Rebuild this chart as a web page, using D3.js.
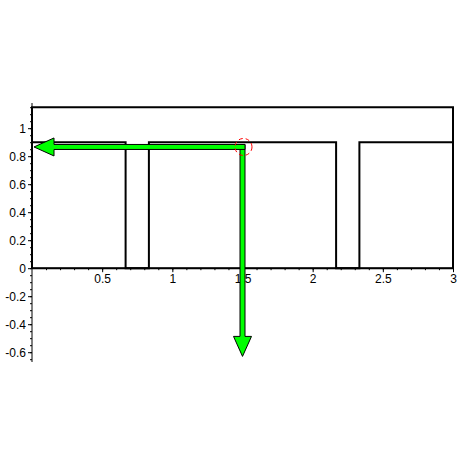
<!DOCTYPE html>
<html>
<head>
<meta charset="utf-8">
<script src="https://cdn.jsdelivr.net/npm/d3@7"></script>
<style>
  body { margin: 0; background: #fff; }
  text { font-family: Arial, "Liberation Sans", sans-serif; }
</style>
</head>
<body>
<div id="chart"></div>
<script>
// curve data
const stepX = [0, 0.667, 0.667, 0.833, 0.833, 2.167, 2.167, 2.333, 2.333, 3];
const stepY = [0.9, 0.9, 0, 0, 0.9, 0.9, 0, 0, 0.9, 0.9];
const boxX = [0, 0, 3, 3, 0];
const boxY = [0, 1.15, 1.15, 0, 0];

// marked point and arrows
const point = [1.5, 0.866];
const arrowEnds = [[0, 0.866], [1.5, -0.63]];

// ticks
const xMajor = [0.5, 1, 1.5, 2, 2.5, 3];
const xMinor = d3.range(1, 31).map(i => i / 10);
const yMajor = [-0.6, -0.4, -0.2, 0, 0.2, 0.4, 0.6, 0.8, 1];
const yMinor = d3.range(-13, 24).map(i => i / 20);

let svgWidth = 464;
let svgHeight = 464;

let svg = d3.select("#chart")
    .append("svg")
    .attr("width", svgWidth)
    .attr("height", svgHeight);

let x = d3.scaleLinear().domain([0, 3]).range([32, 453]);
let y = d3.scaleLinear().domain([-0.67, 1.18]).range([362, 103]);

// axes
let xAxisMinor = d3.axisBottom(x).tickValues(xMinor).tickSize(2).tickFormat("");
let xAxis = d3.axisBottom(x).tickValues(xMajor).tickSize(4).tickPadding(2)
    .tickFormat(d => String(d));
let yAxisMinor = d3.axisLeft(y).tickValues(yMinor).tickSize(2).tickFormat("");
let yAxis = d3.axisLeft(y).tickValues(yMajor).tickSize(4).tickPadding(2)
    .tickFormat(d => String(d));

function styleAxis(g) {
    g.select(".domain").attr("stroke", "#000");
    g.selectAll(".tick line").attr("stroke", "#000");
    g.selectAll("text").attr("fill", "#000").attr("font-size", 12)
        .attr("font-family", "Arial, 'Liberation Sans', sans-serif");
}

svg.append("g").attr("transform", `translate(0,${y(0)})`).call(xAxisMinor).call(styleAxis)
    .select(".domain").remove();
svg.append("g").attr("transform", `translate(0,${y(0)})`).call(xAxis).call(styleAxis)
    .select(".domain").attr("d", `M${x(0)},0H${x(3)}`);
svg.append("g").attr("transform", `translate(${x(0)},0)`).call(yAxisMinor).call(styleAxis)
    .select(".domain").remove();
svg.append("g").attr("transform", `translate(${x(0)},0)`).call(yAxis).call(styleAxis)
    .select(".domain").attr("d", `M0,${y(1.18)}V${y(-0.67)}`);

// curves
let line = d3.line().x(d => x(d[0])).y(d => y(d[1]));

svg.append("path")
    .attr("d", line(boxX.map((v, i) => [v, boxY[i]])))
    .attr("fill", "none")
    .attr("stroke", "#000")
    .attr("stroke-width", 2);

svg.append("path")
    .attr("d", line(stepX.map((v, i) => [v, stepY[i]])))
    .attr("fill", "none")
    .attr("stroke", "#000")
    .attr("stroke-width", 2);

// arrow polygon from (x0,y0) to (x1,y1) in pixels
function arrowPath(x0, y0, x1, y1) {
    let dx = x1 - x0, dy = y1 - y0;
    let len = Math.sqrt(dx * dx + dy * dy);
    let ux = dx / len, uy = dy / len;
    let px = -uy, py = ux;
    let sw = 2.5, hw = 9, hl = 20;
    let bx = x1 - ux * hl, by = y1 - uy * hl;
    let pts = [
        [x0 + px * sw, y0 + py * sw],
        [bx + px * sw, by + py * sw],
        [bx + px * hw, by + py * hw],
        [x1, y1],
        [bx - px * hw, by - py * hw],
        [bx - px * sw, by - py * sw],
        [x0 - px * sw, y0 - py * sw]
    ];
    return "M" + pts.map(p => p.join(",")).join("L") + "Z";
}

let px0 = x(point[0]), py0 = y(point[1]);

// vertical arrow
svg.append("path")
    .attr("d", arrowPath(px0, py0 - 2.5, x(arrowEnds[1][0]), y(arrowEnds[1][1])))
    .attr("fill", "#00ff00")
    .attr("stroke", "#000")
    .attr("stroke-width", 1);

// horizontal arrow
svg.append("path")
    .attr("d", arrowPath(px0 + 2.5, py0, x(arrowEnds[0][0]) + 2, y(arrowEnds[0][1])))
    .attr("fill", "#00ff00")
    .attr("stroke", "#000")
    .attr("stroke-width", 1);

// marked point
svg.append("circle")
    .attr("cx", px0 + 1)
    .attr("cy", py0)
    .attr("r", 8.5)
    .attr("fill", "none")
    .attr("stroke", "red")
    .attr("stroke-width", 1)
    .attr("stroke-dasharray", "4,3");
</script>
</body>
</html>
